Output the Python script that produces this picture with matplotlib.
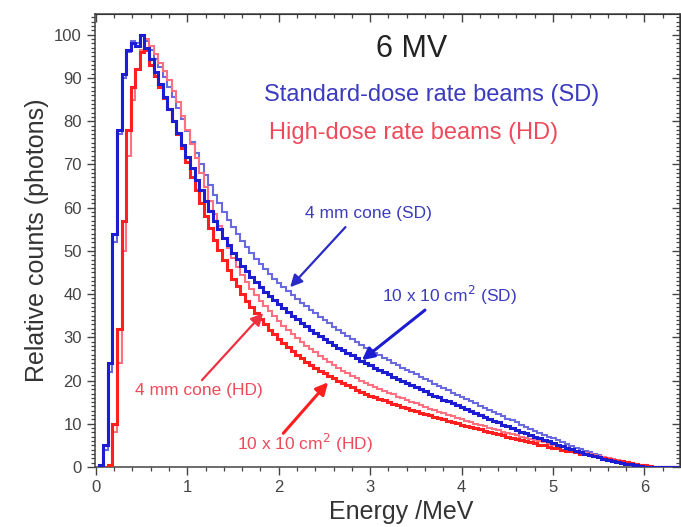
import numpy as np
import matplotlib
matplotlib.use("Agg")
import matplotlib.pyplot as plt
from matplotlib.ticker import MultipleLocator

plt.rcParams['font.family'] = ['Liberation Sans', 'DejaVu Sans']

# ---------------- data (relative counts per 0.05 MeV bin) ----------------
bin_start = 0.03
bin_width = 0.05
n_bins = 127

sd_10x10 = [0.5, 5, 24, 54, 78, 91, 96.5, 98, 97.5, 100, 97.0,
            94.3, 91.4, 88.5, 85.6, 82.8, 80.0, 77.2, 74.4, 71.7, 69.1,
            66.5, 64.0, 61.5, 59.2, 57.0, 55.0, 53.0, 51.3, 49.6, 48.1,
            46.6, 45.3, 44.0, 42.8, 41.7, 40.6, 39.6, 38.6, 37.7, 36.8,
            35.9, 35.0, 34.2, 33.4, 32.6, 31.8, 31.1, 30.4, 29.7, 29.0,
            28.3, 27.6, 27.0, 26.4, 25.8, 25.2, 24.6, 24.0, 23.5, 22.9,
            22.4, 21.9, 21.4, 20.9, 20.4, 19.9, 19.4, 18.9, 18.4, 18.0,
            17.5, 17.0, 16.5, 16.1, 15.6, 15.2, 14.7, 14.3, 13.8, 13.4,
            12.9, 12.5, 12.0, 11.6, 11.1, 10.7, 10.3, 9.8, 9.4, 9.0,
            8.6, 8.2, 7.8, 7.4, 7.0, 6.6, 6.2, 5.9, 5.5, 5.2,
            4.8, 4.5, 4.1, 3.8, 3.4, 3.1, 2.8, 2.5, 2.2, 1.9,
            1.7, 1.4, 1.2, 1.0, 0.8, 0.6, 0.4, 0.2, 0.1, 0]

sd_4mm = [0.3, 4, 22, 52, 77, 90, 96, 98.5, 98, 100, 98.5,
          96.5, 94.5, 92.5, 90.3, 88.0, 85.5, 83.0, 80.4, 77.8, 75.2,
          72.6, 70.1, 67.6, 65.3, 63.0, 61.0, 59.0, 57.2, 55.5, 53.9,
          52.3, 50.9, 49.5, 48.2, 47.0, 45.8, 44.7, 43.6, 42.6, 41.6,
          40.7, 39.8, 38.9, 38.0, 37.2, 36.4, 35.6, 34.8, 34.0, 33.2,
          32.5, 31.7, 31.0, 30.3, 29.6, 28.9, 28.3, 27.6, 27.0, 26.4,
          25.8, 25.3, 24.7, 24.1, 23.6, 23.0, 22.5, 21.9, 21.4, 20.8,
          20.3, 19.8, 19.2, 18.7, 18.2, 17.7, 17.2, 16.7, 16.2, 15.7,
          15.2, 14.7, 14.2, 13.7, 13.2, 12.7, 12.2, 11.7, 11.2, 10.8,
          10.3, 9.8, 9.3, 8.9, 8.4, 7.9, 7.5, 7.0, 6.6, 6.2,
          5.7, 5.3, 4.9, 4.5, 4.1, 3.8, 3.4, 3.1, 2.7, 2.4,
          2.1, 1.8, 1.5, 1.2, 0.9, 0.7, 0.4, 0.2, 0.1, 0]

hd_10x10 = [0, 0, 0.5, 10, 32, 57, 78, 88, 92, 96, 96.5,
            93.0, 90.5, 88.0, 85.4, 82.8, 80.0, 77.0, 73.8, 70.5, 67.2,
            64.0, 61.0, 58.0, 55.2, 52.5, 50.1, 47.8, 45.6, 43.6, 41.8,
            40.0, 38.5, 37.0, 35.6, 34.2, 33.0, 31.8, 30.7, 29.6, 28.6,
            27.7, 26.8, 26.0, 25.2, 24.4, 23.7, 23.0, 22.3, 21.7, 21.1,
            20.5, 19.9, 19.4, 18.9, 18.4, 17.9, 17.4, 17.0, 16.5, 16.1,
            15.7, 15.4, 15.0, 14.6, 14.3, 13.9, 13.6, 13.3, 12.9, 12.6,
            12.3, 12.0, 11.6, 11.3, 11.0, 10.7, 10.4, 10.1, 9.8, 9.5,
            9.3, 9.0, 8.7, 8.4, 8.1, 7.9, 7.6, 7.3, 7.0, 6.8,
            6.5, 6.2, 6.0, 5.7, 5.5, 5.2, 5.0, 4.7, 4.5, 4.3,
            4.0, 3.8, 3.6, 3.4, 3.1, 2.9, 2.7, 2.5, 2.3, 2.1,
            1.9, 1.7, 1.5, 1.3, 1.1, 0.9, 0.7, 0.5, 0.4, 0.2, 0.1, 0]

hd_4mm = [0, 0, 0.3, 8, 24, 50, 72, 85, 92, 96.5, 99,
          97.5, 95.5, 93.5, 91.5, 89.5, 87.1, 84.5, 81.3, 78.0, 74.8,
          71.5, 68.1, 64.8, 61.6, 58.5, 55.7, 53.0, 50.6, 48.3, 46.3,
          44.4, 42.8, 41.2, 39.8, 38.5, 37.2, 36.0, 34.9, 33.8, 32.7,
          31.7, 30.7, 29.8, 28.9, 28.1, 27.3, 26.5, 25.7, 25.0, 24.3,
          23.6, 22.9, 22.3, 21.7, 21.1, 20.5, 20.0, 19.5, 19.0, 18.5,
          18.1, 17.6, 17.2, 16.8, 16.3, 15.9, 15.5, 15.1, 14.7, 14.3,
          13.9, 13.5, 13.2, 12.8, 12.4, 12.0, 11.7, 11.3, 11.0, 10.7,
          10.4, 10.0, 9.7, 9.4, 9.1, 8.8, 8.5, 8.2, 7.9, 7.6,
          7.3, 7.0, 6.8, 6.5, 6.2, 5.9, 5.7, 5.4, 5.1, 4.8,
          4.6, 4.3, 4.0, 3.8, 3.5, 3.3, 3.0, 2.8, 2.5, 2.3,
          2.0, 1.8, 1.6, 1.3, 1.1, 0.9, 0.7, 0.5, 0.3, 0.1, 0]

x_ticks = [0, 1, 2, 3, 4, 5, 6]
y_ticks = [0, 10, 20, 30, 40, 50, 60, 70, 80, 90, 100]

edges = bin_start + bin_width * np.arange(n_bins + 1)


def padded(vals):
    arr = np.zeros(n_bins)
    arr[:len(vals)] = vals
    return arr


# ---------------- figure ----------------
fig = plt.figure(figsize=(6.81, 5.27), dpi=100)
ax = fig.add_axes([95 / 681, 60 / 527, 585 / 681, 453 / 527])

c_sd_thick = '#1c1cd0'
c_sd_thin = '#6a6ae0'
c_hd_thick = '#ff1f1f'
c_hd_thin = '#ff7080'

ax.stairs(padded(sd_4mm), edges, color=c_sd_thin, lw=1.5, zorder=3)
ax.stairs(padded(hd_4mm), edges, color=c_hd_thin, lw=1.5, zorder=3)
ax.stairs(padded(hd_10x10), edges, color=c_hd_thick, lw=2.2, zorder=4)
ax.stairs(padded(sd_10x10), edges, color=c_sd_thick, lw=2.2, zorder=5)

ax.set_xlim(-0.01, 6.39)
ax.set_ylim(0, 104.8)

ax.set_xticks(x_ticks)
ax.set_yticks(y_ticks)
ax.xaxis.set_minor_locator(MultipleLocator(0.2))
ax.yaxis.set_minor_locator(MultipleLocator(1))
tick_col = '#444444'
ax.tick_params(which='major', direction='out', length=6, width=1.0,
               colors=tick_col, labelsize=12, labelcolor='#444444')
ax.tick_params(which='minor', direction='out', length=3, width=0.9,
               colors=tick_col)
for sp in ax.spines.values():
    sp.set_color('#444444')
    sp.set_linewidth(1.1)

secx = ax.secondary_xaxis('top')
secx.set_xticks(x_ticks)
secx.xaxis.set_minor_locator(MultipleLocator(0.2))
secx.tick_params(which='major', direction='in', length=6, width=1.0,
                 colors=tick_col, labeltop=False)
secx.tick_params(which='minor', direction='in', length=3, width=0.9,
                 colors=tick_col)
secy = ax.secondary_yaxis('right')
secy.set_yticks(y_ticks)
secy.yaxis.set_minor_locator(MultipleLocator(1))
secy.tick_params(which='major', direction='in', length=6, width=1.0,
                 colors=tick_col, labelright=False)
secy.tick_params(which='minor', direction='in', length=3, width=0.9,
                 colors=tick_col)

ax.set_xlabel('Energy /MeV', fontsize=18, color='#333333')
ax.set_ylabel('Relative counts (photons)', fontsize=18, color='#333333')
ax.xaxis.set_label_coords(0.524, -0.072)
ax.yaxis.set_label_coords(-0.079, 0.5)

# ---------------- texts ----------------
ax.text(3.45, 96.6, '6 MV', fontsize=22, color='#222222',
        ha='center', va='center')
ax.text(3.67, 86.0, 'Standard-dose rate beams (SD)', fontsize=17,
        color='#3b3bbf', ha='center', va='center')
ax.text(3.48, 77.2, 'High-dose rate beams (HD)', fontsize=17,
        color='#ee4a5a', ha='center', va='center')

ax.text(2.985, 58.7, '4 mm cone (SD)', fontsize=12.5, color='#3b3bbf',
        ha='center', va='center')
ax.text(3.865, 39.7, '10 x 10 cm$^2$ (SD)', fontsize=12.5, color='#3b3bbf',
        ha='center', va='center')
ax.text(1.13, 17.7, '4 mm cone (HD)', fontsize=12.5, color='#ee4a5a',
        ha='center', va='center')
ax.text(2.29, 5.5, '10 x 10 cm$^2$ (HD)', fontsize=12.5, color='#ee4a5a',
        ha='center', va='center')

arrow_kw = dict(arrowstyle='-|>', mutation_scale=18, shrinkA=0, shrinkB=0)
ax.annotate('', xy=(2.125, 41.6), xytext=(2.73, 55.5),
            arrowprops=dict(color='#2a2ac8', lw=1.6, **arrow_kw), zorder=6)
ax.annotate('', xy=(2.91, 24.7), xytext=(3.60, 36.3),
            arrowprops=dict(color='#1c1cd0', lw=2.2, **arrow_kw), zorder=6)
ax.annotate('', xy=(1.83, 35.6), xytext=(1.16, 20.1),
            arrowprops=dict(color='#ee3040', lw=1.6, **arrow_kw), zorder=6)
ax.annotate('', xy=(2.54, 19.6), xytext=(2.05, 7.8),
            arrowprops=dict(color='#ff1f1f', lw=2.2, **arrow_kw), zorder=6)

fig.savefig('out.png', dpi=100)
